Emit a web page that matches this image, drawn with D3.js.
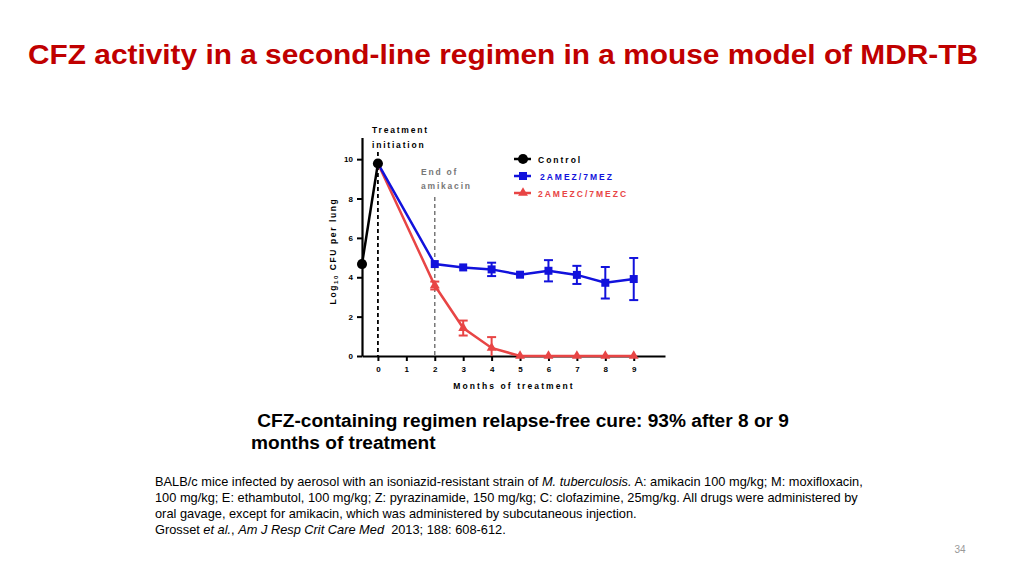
<!DOCTYPE html>
<html><head><meta charset="utf-8">
<script src="https://cdn.jsdelivr.net/npm/d3@7"></script>
<style>
html,body{margin:0;padding:0;background:#fff;}
svg{display:block;font-family:"Liberation Sans",Arial,sans-serif;}
</style></head>
<body>
<svg id="c" width="1024" height="576"></svg>
<script>
// ---- data ----
const controlMonths = [-0.56, 0];
const controlValues = [4.67, 9.78];
const treatMonths = [0, 2, 3, 4, 5, 6, 7, 8, 9];
const mezValues = [9.78, 4.67, 4.5, 4.4, 4.13, 4.33, 4.12, 3.72, 3.91];
const mezErrors = [0, 0, 0, 0.34, 0, 0.54, 0.46, 0.8, 1.07];
const mezcValues = [9.78, 3.58, 1.42, 0.41, 0, 0, 0, 0, 0];
const mezcErrors = [0, 0.2, 0.38, 0.55, 0, 0, 0, 0, 0];
const xTicks = [0,1,2,3,4,5,6,7,8,9];
const yTicks = [0,2,4,6,8,10];
const seriesNames = ["Control", "2AMEZ/7MEZ", "2AMEZC/7MEZC"];
const colors = ["#000000", "#1212dc", "#e84545"];

const svg = d3.select("#c");

// title
svg.append("text").attr("x", 28).attr("y", 64)
  .attr("font-size", 28).attr("font-weight", "bold").attr("fill", "#c00000")
  .attr("textLength", 950).attr("lengthAdjust","spacingAndGlyphs")
  .text("CFZ activity in a second-line regimen in a mouse model of MDR-TB");

// scales
const x = d3.scaleLinear().domain([-0.56, 10.1]).range([362, 665]);
const y = d3.scaleLinear().domain([0, 11.1]).range([356, 137.5]);

const g = svg.append("g");

// axes
const yAxis = g.append("g").attr("transform", `translate(${x(-0.56)},0)`)
  .call(d3.axisLeft(y).tickValues(yTicks).tickSize(5).tickPadding(4).tickSizeOuter(0));
const xAxis = g.append("g").attr("transform", `translate(0,${y(0)})`)
  .call(d3.axisBottom(x).tickValues(xTicks).tickSize(5).tickPadding(5).tickSizeOuter(0));
[yAxis, xAxis].forEach(a => {
  a.select(".domain").attr("stroke", "#000").attr("stroke-width", 2.2);
  a.selectAll(".tick line").attr("stroke", "#000").attr("stroke-width", 2);
  a.selectAll(".tick text").attr("font-size", 8).attr("font-weight", "bold")
    .attr("font-family", "Liberation Sans, Arial, sans-serif").attr("fill","#000");
});

// axis labels
const yl = g.append("text").attr("transform", `translate(336,${251}) rotate(-90)`)
  .attr("text-anchor", "middle").attr("font-size", 8.5).attr("font-weight", "bold")
  .attr("letter-spacing", 1.6);
yl.append("tspan").text("Log");
yl.append("tspan").attr("font-size", 6).attr("dy", 2).text("10");
yl.append("tspan").attr("dy", -2).text(" CFU per lung");

g.append("text").attr("x", 514).attr("y", 389).attr("text-anchor", "middle")
  .attr("font-size", 8.5).attr("font-weight", "bold").attr("letter-spacing", 2.1)
  .text("Months of treatment");

// dashed reference lines
g.append("line").attr("x1", x(0)).attr("x2", x(0)).attr("y1", 152).attr("y2", y(0))
  .attr("stroke", "#000").attr("stroke-width", 1.8).attr("stroke-dasharray", "4,3");
g.append("line").attr("x1", x(2)).attr("x2", x(2)).attr("y1", 197).attr("y2", y(0))
  .attr("stroke", "#777").attr("stroke-width", 1.5).attr("stroke-dasharray", "4,3");

// annotations
const ann = (tx, ty, t, col) => g.append("text").attr("x", tx).attr("y", ty)
  .attr("font-size", 8.5).attr("font-weight", "bold").attr("letter-spacing", 1.8)
  .attr("fill", col).text(t);
ann(372, 133, "Treatment", "#000");
ann(372, 148, "initiation", "#000");
ann(421, 175, "End of", "#777");
ann(421, 189, "amikacin", "#777");

const line = d3.line().x(d => x(d[0])).y(d => y(d[1]));

// series
const mezData = treatMonths.map((m,i) => [m, mezValues[i], mezErrors[i]]);
const mezcData = treatMonths.map((m,i) => [m, mezcValues[i], mezcErrors[i]]);
const ctrlData = controlMonths.map((m,i) => [m, controlValues[i]]);

function errorBars(data, col) {
  data.filter(d => d[2] > 0).forEach(d => {
    const lo = Math.max(0, d[1]-d[2]), hi = d[1]+d[2];
    g.append("line").attr("x1", x(d[0])).attr("x2", x(d[0])).attr("y1", y(lo)).attr("y2", y(hi))
      .attr("stroke", col).attr("stroke-width", 2);
    [hi, lo].forEach(v => {
      if (v === 0) return;
      g.append("line").attr("x1", x(d[0])-4.5).attr("x2", x(d[0])+4.5).attr("y1", y(v)).attr("y2", y(v))
        .attr("stroke", col).attr("stroke-width", 2);
    });
  });
}

errorBars(mezcData, colors[2]);
g.append("path").datum(mezcData).attr("d", line).attr("fill","none")
  .attr("stroke", colors[2]).attr("stroke-width", 2.5);
errorBars(mezData, colors[1]);
g.append("path").datum(mezData).attr("d", line).attr("fill","none")
  .attr("stroke", colors[1]).attr("stroke-width", 2.5);
g.append("path").datum(ctrlData).attr("d", line).attr("fill","none")
  .attr("stroke", colors[0]).attr("stroke-width", 2.5);

const tri = d3.symbol().type(d3.symbolTriangle).size(42);
const sq = d3.symbol().type(d3.symbolSquare).size(64);
const circ = d3.symbol().type(d3.symbolCircle).size(80);

g.selectAll(".tri").data(mezcData.slice(1)).join("path")
  .attr("transform", d => `translate(${x(d[0])},${y(d[1])})`).attr("d", tri).attr("fill", colors[2]);
g.selectAll(".sq").data(mezData.slice(1)).join("path")
  .attr("transform", d => `translate(${x(d[0])},${y(d[1])})`).attr("d", sq).attr("fill", colors[1]);
g.selectAll(".circ").data(ctrlData).join("path")
  .attr("transform", d => `translate(${x(d[0])},${y(d[1])})`).attr("d", circ).attr("fill", colors[0]);

// legend
const legY = [159, 176, 193];
const syms = [circ, sq, tri];
seriesNames.forEach((n, i) => {
  const lg = g.append("g").attr("transform", `translate(523,${legY[i]})`);
  lg.append("line").attr("x1", -9).attr("x2", 8).attr("stroke", colors[i]).attr("stroke-width", 2.5);
  lg.append("path").attr("d", syms[i]).attr("fill", colors[i]);
  lg.append("text").attr("x", i === 1 ? 17 : 15).attr("y", 3.5)
    .attr("font-size", 8.5).attr("font-weight", "bold").attr("letter-spacing", 2)
    .attr("fill", colors[i]).text(n);
});

// subtitle
svg.append("text").attr("x", 252).attr("y", 427).attr("font-size", 19.1).attr("font-weight","bold")
  .attr("xml:space","preserve").text(" CFZ-containing regimen relapse-free cure: 93% after 8 or 9");
svg.append("text").attr("x", 251).attr("y", 449).attr("font-size", 19.1).attr("font-weight","bold")
  .text("months of treatment");

// footnote
const fn = svg.append("g").attr("font-size", 12.8).attr("fill", "#000");
const l1 = fn.append("text").attr("x", 155).attr("y", 486);
l1.append("tspan").text("BALB/c mice infected by aerosol with an isoniazid-resistant strain of ");
l1.append("tspan").attr("font-style","italic").text("M. tuberculosis.");
l1.append("tspan").text(" A: amikacin 100 mg/kg; M: moxifloxacin,");
fn.append("text").attr("x", 155).attr("y", 502)
  .text("100 mg/kg; E: ethambutol, 100 mg/kg; Z: pyrazinamide, 150 mg/kg; C: clofazimine, 25mg/kg. All drugs were administered by");
fn.append("text").attr("x", 155).attr("y", 518)
  .text("oral gavage, except for amikacin, which was administered by subcutaneous injection.");
const l4 = fn.append("text").attr("x", 155).attr("y", 534);
l4.append("tspan").text("Grosset ");
l4.append("tspan").attr("font-style","italic").text("et al.");
l4.append("tspan").text(", ");
l4.append("tspan").attr("font-style","italic").text("Am J Resp Crit Care Med");
l4.append("tspan").attr("xml:space","preserve").text("  2013; 188: 608-612.");

svg.append("text").attr("x", 960).attr("y", 553).attr("text-anchor","middle")
  .attr("font-size", 10).attr("fill", "#999").text("34");
</script>
</body></html>
